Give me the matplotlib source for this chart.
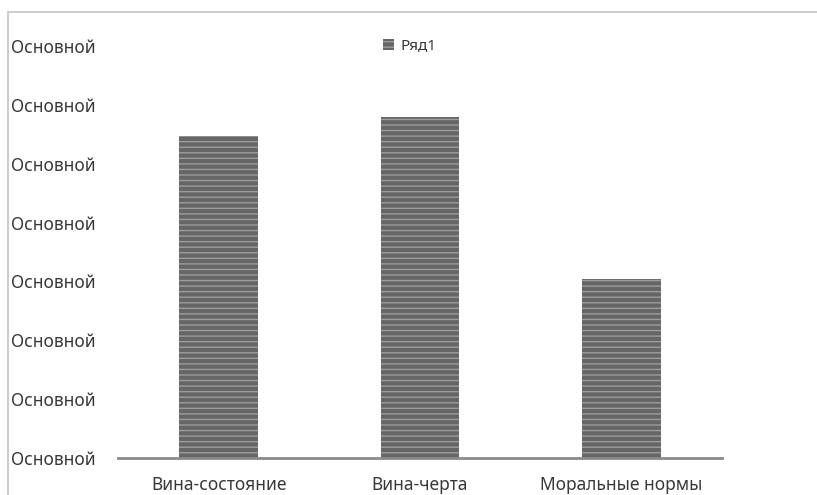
import matplotlib
matplotlib.use('Agg')
import matplotlib.pyplot as plt
from matplotlib.patches import Rectangle

# data
categories = ['Вина-состояние', 'Вина-черта', 'Моральные нормы']
values = [5.47, 5.79, 3.04]
series_name = 'Ряд1'
tick_values = [0, 1, 2, 3, 4, 5, 6, 7]
tick_labels = ['Основной'] * 8

plt.rcParams['font.family'] = ['Noto Sans', 'DejaVu Sans']
plt.rcParams['hatch.linewidth'] = 1.0
plt.rcParams['hatch.color'] = '#9c9c9c'

W, H = 817, 495
fig = plt.figure(figsize=(W / 100, H / 100), dpi=100)
ax = fig.add_axes([118 / W, (H - 458) / H, 604 / W, (458 - 46) / H])

# outer frame of the chart area
fig.patches.append(Rectangle((8 / W, -0.05), 1.1, 1 - 12 / H + 0.05,
                             transform=fig.transFigure, fill=False,
                             edgecolor='#c4c4c4', linewidth=1.2))

x = range(len(categories))
ax.bar(x, values, width=0.39, color='#666666', hatch='---',
       edgecolor='#9c9c9c', linewidth=0, label=series_name)

ax.set_xlim(-0.5, len(categories) - 0.5)
ax.set_ylim(0, 7)
ax.set_xticks(list(x))
ax.set_xticklabels(categories, fontsize=12.5, color='#383838')
ax.set_yticks(tick_values)
ax.set_yticklabels(tick_labels, fontsize=12.5, color='#383838')
for lab in ax.get_yticklabels():
    lab.set_horizontalalignment('left')
ax.tick_params(axis='y', length=0, pad=77)
ax.tick_params(axis='x', length=0, pad=13)

for side in ['top', 'right', 'left']:
    ax.spines[side].set_visible(False)
ax.spines['bottom'].set_color('#8a8a8a')
ax.spines['bottom'].set_linewidth(2)

ax.legend(loc='center', bbox_to_anchor=(0.483, 1.0), frameon=False,
          fontsize=11, handlelength=0.75, handleheight=0.75, handletextpad=0.4,
          labelcolor='#383838')

fig.savefig('out.png', dpi=100)
